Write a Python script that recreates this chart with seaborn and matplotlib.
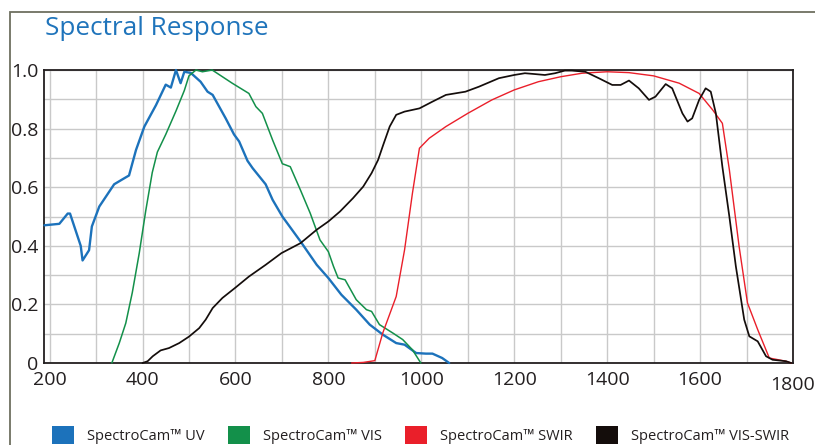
import matplotlib
matplotlib.use("Agg")
import matplotlib.pyplot as plt
from matplotlib.patches import Patch, Rectangle
from matplotlib.transforms import ScaledTranslation
import seaborn as sns
import pandas as pd

# ---- data ----
uv_x = [189, 221, 239, 244, 267, 271, 285, 291, 307, 339, 357, 371, 386, 404, 429, 450, 461,
        472, 482, 490, 504, 525, 540, 551, 579, 597, 608, 626, 637, 665, 680, 701, 740, 775,
        800, 828, 860, 889, 917, 946, 964, 989, 1010, 1024, 1045, 1060]
uv_y = [0.47, 0.475, 0.51, 0.51, 0.40, 0.35, 0.385, 0.466, 0.534, 0.61, 0.627, 0.64, 0.727,
        0.807, 0.88, 0.95, 0.94, 1.0, 0.955, 0.994, 0.99, 0.96, 0.926, 0.915, 0.835, 0.78,
        0.756, 0.69, 0.665, 0.61, 0.557, 0.50, 0.415, 0.335, 0.29, 0.233, 0.182, 0.131,
        0.097, 0.068, 0.0625, 0.034, 0.032, 0.032, 0.017, 0.0]

vis_x = [334, 350, 364, 378, 393, 407, 421, 432, 450, 472, 490, 500, 515, 529, 550, 593, 629,
         644, 658, 680, 701, 708, 718, 740, 761, 782, 800, 811, 821, 836, 860, 882, 893, 910,
         939, 960, 981, 999]
vis_y = [0.0, 0.068, 0.136, 0.24, 0.375, 0.52, 0.65, 0.72, 0.78, 0.86, 0.93, 0.98, 1.0, 0.994,
         1.0, 0.955, 0.92, 0.875, 0.852, 0.761, 0.68, 0.676, 0.67, 0.59, 0.511, 0.42, 0.38,
         0.33, 0.29, 0.284, 0.216, 0.182, 0.176, 0.131, 0.102, 0.08, 0.045, 0.0]

swir_x = [850, 875, 900, 917, 946, 964, 981, 996, 1017, 1053, 1100, 1152, 1200, 1252, 1300,
          1346, 1400, 1447, 1500, 1555, 1598, 1627, 1648, 1663, 1684, 1702, 1724, 1749, 1785, 1796]
swir_y = [0.0, 0.002, 0.008, 0.102, 0.227, 0.386, 0.58, 0.733, 0.767, 0.807, 0.852, 0.898,
          0.932, 0.96, 0.977, 0.989, 0.994, 0.991, 0.98, 0.955, 0.92, 0.864, 0.818, 0.66,
          0.398, 0.205, 0.114, 0.017, 0.006, 0.0]

visswir_x = [400, 411, 422, 439, 457, 479, 500, 522, 536, 551, 572, 599, 629, 665, 699, 740,
             775, 800, 825, 853, 875, 893, 907, 918, 932, 946, 964, 996, 1024, 1053, 1095, 1124,
             1167, 1200, 1223, 1245, 1266, 1288, 1309, 1324, 1353, 1382, 1411, 1429, 1447, 1468,
             1490, 1504, 1526, 1540, 1562, 1573, 1583, 1598, 1612, 1623, 1634, 1648, 1663, 1677,
             1695, 1706, 1724, 1742, 1756, 1785, 1796]
visswir_y = [0.0, 0.006, 0.023, 0.043, 0.051, 0.068, 0.09, 0.119, 0.148, 0.1875, 0.222, 0.256,
             0.295, 0.335, 0.375, 0.409, 0.455, 0.483, 0.517, 0.5625, 0.602, 0.648, 0.693,
             0.744, 0.807, 0.847, 0.858, 0.869, 0.892, 0.915, 0.926, 0.943, 0.972, 0.983, 0.989,
             0.986, 0.983, 0.989, 0.998, 0.998, 0.994, 0.972, 0.949, 0.949, 0.964, 0.9375,
             0.898, 0.909, 0.952, 0.9375, 0.852, 0.824, 0.835, 0.898, 0.9375, 0.926, 0.852,
             0.67, 0.5, 0.33, 0.148, 0.091, 0.074, 0.023, 0.011, 0.006, 0.0]

series_names = ["SpectroCam\u2122 UV", "SpectroCam\u2122 VIS", "SpectroCam\u2122 SWIR",
                "SpectroCam\u2122 VIS-SWIR"]
series_colors = ["#1c72bb", "#13904a", "#ea1f2a", "#140d0b"]
series_widths = [1.7, 1.1, 1.0, 1.25]
x_tick_vals = [200, 400, 600, 800, 1000, 1200, 1400, 1600, 1800]
y_tick_vals = [0, 0.2, 0.4, 0.6, 0.8, 1.0]
y_tick_labels = ["0", "0.2", "0.4", "0.6", "0.8", "1.0"]

# ---- plot ----
sns.set_theme(style="white")
plt.rcParams["font.family"] = ["Open Sans", "DejaVu Sans"]

fig = plt.figure(figsize=(8.15, 4.45), dpi=100)
ax = fig.add_axes([44 / 815, 82 / 445, 749 / 815, 293 / 445])

all_x = [uv_x, vis_x, swir_x, visswir_x]
all_y = [uv_y, vis_y, swir_y, visswir_y]
for name, xs, ys, c, lw in zip(series_names, all_x, all_y, series_colors, series_widths):
    df = pd.DataFrame({"wavelength": xs, "response": ys})
    sns.lineplot(data=df, x="wavelength", y="response", ax=ax, color=c, linewidth=lw,
                 sort=False, estimator=None, clip_on=False, legend=False, zorder=3)

ax.set_xlim(188, 1800)
ax.set_ylim(0, 1.0)
ax.set_xticks(x_tick_vals)
ax.set_xticklabels([str(v) for v in x_tick_vals])
ax.set_xticks(list(range(300, 1800, 200)), minor=True)
ax.set_yticks(y_tick_vals)
ax.set_yticklabels(y_tick_labels)
ax.set_yticks([0.1, 0.3, 0.5, 0.7, 0.9], minor=True)
ax.grid(True, which="both", color="#c9c9c9", linewidth=1.0, zorder=0)
ax.set_axisbelow(True)
ax.tick_params(axis="both", which="both", length=0)
ax.tick_params(axis="x", pad=6, labelsize=14, colors="#231f20")
ax.tick_params(axis="y", pad=4, labelsize=14, colors="#231f20")
for lbl in ax.get_yticklabels():
    lbl.set_horizontalalignment("right")
ax.set_xlabel("")
ax.set_ylabel("")
for s in ax.spines.values():
    s.set_color("#231f20")
    s.set_linewidth(1.3)
    s.set_visible(True)

last = ax.get_xticklabels()[-1]
last.set_transform(last.get_transform() + ScaledTranslation(0, -3 / 72, fig.dpi_scale_trans))

# title
fig.text(45 / 815, 1 - 35 / 445, "Spectral Response", color="#1f74bb", fontsize=18.8,
         ha="left", va="baseline")

# outer frame
fig.patches.append(Rectangle((9.5 / 815, -0.1), 1.2, 1 - 11.5 / 445 + 0.1,
                             transform=fig.transFigure, fill=False,
                             edgecolor="#6e7060", linewidth=1.3))

# legend
handles = [Patch(facecolor=c, edgecolor="none") for c in series_colors]
fig.legend(handles, series_names, loc="center left", bbox_to_anchor=(52 / 815, 1 - 435 / 445),
           ncol=4, frameon=False, fontsize=10.5, handlelength=1.5, handleheight=1.5,
           handletextpad=0.9, columnspacing=1.6, borderpad=0, borderaxespad=0,
           labelcolor="#231f20")

fig.savefig("out.png", dpi=100)
